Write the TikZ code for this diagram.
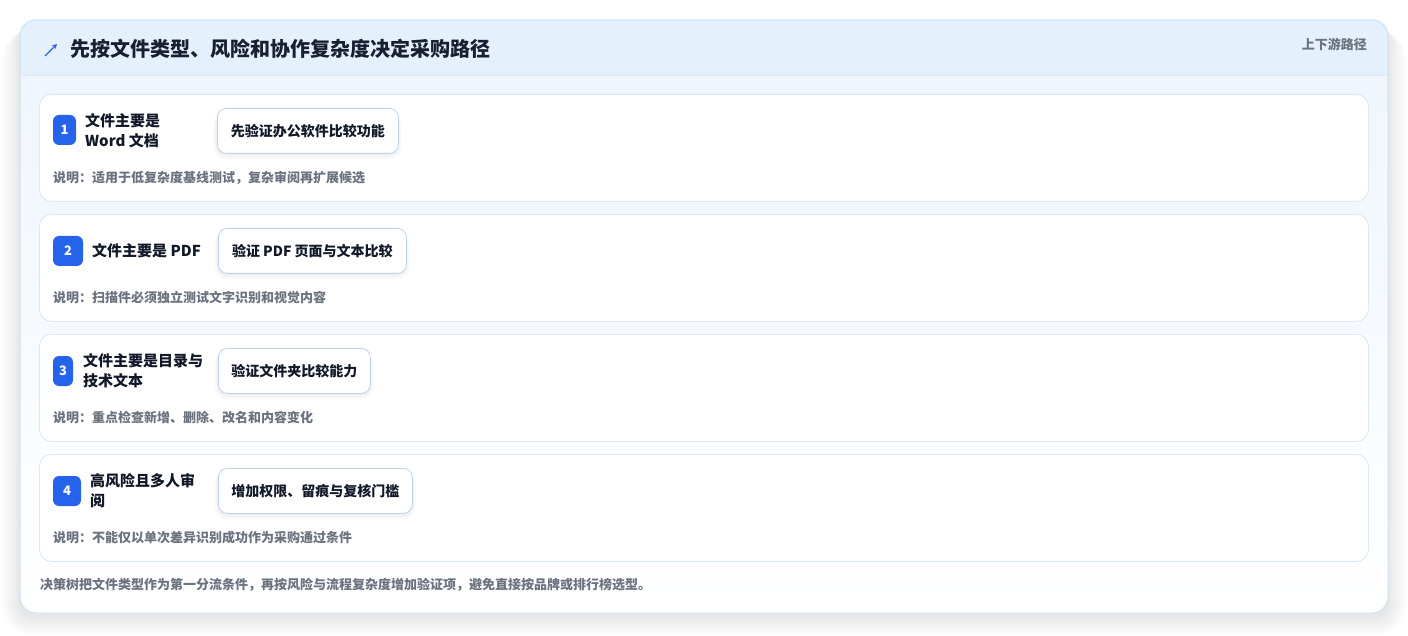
\documentclass[tikz,border=0pt]{standalone}
\usepackage{fontspec}
\setmainfont{Noto Sans CJK SC}
\usetikzlibrary{arrows.meta}
\definecolor{headbg}{HTML}{E4F0FC}
\definecolor{outerline}{HTML}{CCE1F2}
\definecolor{cardline}{HTML}{DCE8F4}
\definecolor{bodytop}{HTML}{EDF5FD}
\definecolor{bodybot}{HTML}{FFFFFF}
\definecolor{badge}{HTML}{2563EB}
\definecolor{actline}{HTML}{BCD2EB}
\definecolor{titlec}{HTML}{172033}
\definecolor{notec}{HTML}{6B7280}
\definecolor{darkc}{HTML}{111827}
\definecolor{shadowc}{HTML}{2A3442}
\tikzset{
  cardbox/.style={draw=cardline, line width=0.8pt, fill=white, rounded corners=12pt, anchor=north west, minimum width=1329pt, minimum height=107pt, inner sep=0pt},
  badgebox/.style={fill=badge, rounded corners=6pt, text=white, font=\bfseries\fontsize{13}{15}\selectfont, inner sep=0pt, minimum height=30pt},
  labeltext/.style={anchor=west, align=left, font=\bfseries\fontsize{15}{20}\selectfont, text=darkc, inner sep=0pt},
  actbox/.style={draw=actline, line width=0.8pt, fill=white, rounded corners=9pt, anchor=north west, minimum height=45pt, inner sep=0pt, font=\bfseries\fontsize{14}{16}\selectfont, text=darkc},
  notetext/.style={anchor=west, font=\bfseries\fontsize{13}{15}\selectfont, text=notec, inner sep=0pt}
}
\begin{document}
\begin{tikzpicture}[x=1pt,y=-1pt]
\useasboundingbox (0,0) rectangle (1408,636);
\fill[white] (0,0) rectangle (1408,636);
% outer card shadow
\foreach \k in {1,...,12}{
  \fill[shadowc, opacity=0.008, rounded corners=16pt+\k pt]
    ({20-\k*1.5},{24+\k*0.6}) rectangle ({1388+\k*1.5},{617+\k*1.5});
}
\shade[rounded corners=16pt, top color=bodytop, bottom color=bodybot] (20,20) rectangle (1388,613);
\begin{scope}
\clip[rounded corners=16pt] (20,20) rectangle (1388,613);
\fill[headbg] (20,20) rectangle (1388,75);
\draw[cardline, line width=0.8pt] (20,75) -- (1388,75);
\end{scope}
\draw[outerline, line width=1pt, rounded corners=16pt] (20,20) rectangle (1388,613);
% header
\coordinate (arrS) at (45,56);
\coordinate (arrE) at (57,44);
\draw[badge, line width=1.4pt, -{Stealth[length=5pt,width=5pt]}] (arrS) -- (arrE);
\node[anchor=west, inner sep=0pt, font=\bfseries\fontsize{20}{24}\selectfont, text=titlec] (title) at (70,49) {先按文件类型、风险和协作复杂度决定采购路径};
\node[anchor=east, inner sep=0pt, font=\bfseries\fontsize{13}{15}\selectfont, text=notec] (tag) at (1367,44) {上下游路径};
% cards
\node[cardbox] (card1) at (39,94) {};
\node[cardbox] (card2) at (39,214) {};
\node[cardbox] (card3) at (39,334) {};
\node[cardbox] (card4) at (39,454) {};
% badges
\node[badgebox, minimum width=23pt] (b1) at (64.5,130) {1};
\node[badgebox, minimum width=30pt] (b2) at (68,251) {2};
\node[badgebox, minimum width=20pt] (b3) at (63,371) {3};
\node[badgebox, minimum width=28pt] (b4) at (67,491) {4};
% labels
\node[labeltext] (l1) at (85,131) {文件主要是\\Word 文档};
\node[labeltext] (l2) at (92,251) {文件主要是 PDF};
\node[labeltext] (l3) at (83,371) {文件主要是目录与\\技术文本};
\node[labeltext] (l4) at (90,491) {高风险且多人审\\阅};
% action shadows
\foreach \xa/\ya/\xb in {217/108/398, 218/228/406, 218/348/370, 218/468/412}{
  \foreach \k in {1,...,5}{
    \fill[shadowc, opacity=0.010, rounded corners=9pt+\k pt]
      ({\xa-\k*0.8},{\ya+1+\k*0.5}) rectangle ({\xb+\k*0.8},{\ya+45+1+\k*1.2});
  }
}
% actions
\node[actbox, minimum width=181pt] (a1) at (217,108) {先验证办公软件比较功能};
\node[actbox, minimum width=188pt] (a2) at (218,228) {验证 PDF 页面与文本比较};
\node[actbox, minimum width=152pt] (a3) at (218,348) {验证文件夹比较能力};
\node[actbox, minimum width=194pt] (a4) at (218,468) {增加权限、留痕与复核门槛};
% notes
\node[notetext] (n1) at (53,178) {说明：适用于低复杂度基线测试，复杂审阅再扩展候选};
\node[notetext] (n2) at (53,298) {说明：扫描件必须独立测试文字识别和视觉内容};
\node[notetext] (n3) at (53,418) {说明：重点检查新增、删除、改名和内容变化};
\node[notetext] (n4) at (53,538) {说明：不能仅以单次差异识别成功作为采购通过条件};
% footer
\node[notetext] (foot) at (40,585) {决策树把文件类型作为第一分流条件，再按风险与流程复杂度增加验证项，避免直接按品牌或排行榜选型。};
\end{tikzpicture}
\end{document}
